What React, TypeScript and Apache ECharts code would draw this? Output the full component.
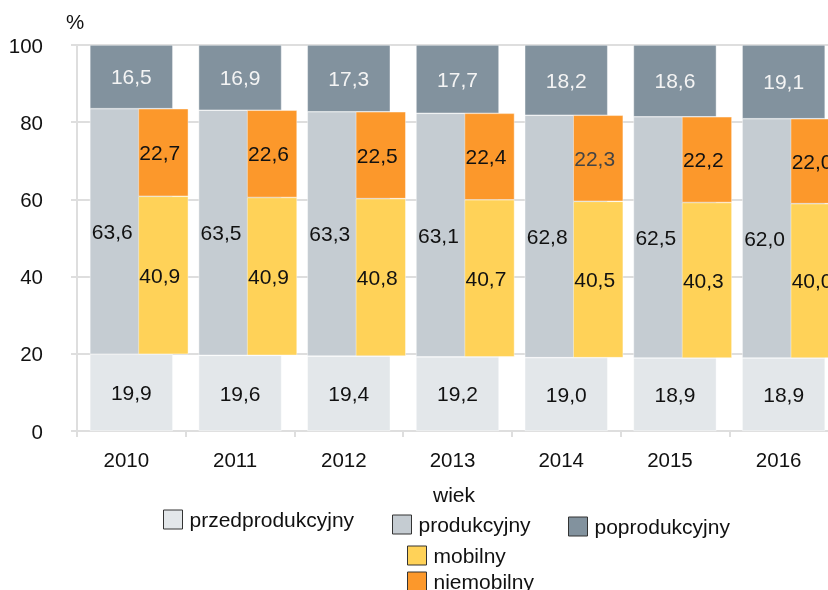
import React, { useEffect, useRef } from "react";
import * as echarts from "echarts";

const years = ["2010", "2011", "2012", "2013", "2014", "2015", "2016"];
const przedprodukcyjny = [19.9, 19.6, 19.4, 19.2, 19.0, 18.9, 18.9];
const produkcyjny = [63.6, 63.5, 63.3, 63.1, 62.8, 62.5, 62.0];
const poprodukcyjny = [16.5, 16.9, 17.3, 17.7, 18.2, 18.6, 19.1];
const mobilny = [40.9, 40.9, 40.8, 40.7, 40.5, 40.3, 40.0];
const niemobilny = [22.7, 22.6, 22.5, 22.4, 22.3, 22.2, 22.0];
const yTicks = [0, 20, 40, 60, 80, 100];

const FONT = "'Liberation Sans', Arial, Helvetica, sans-serif";
const C_PRZED = "#e3e7ea";
const C_PROD = "#c5ccd2";
const C_POPR = "#82929e";
const C_MOB = "#ffd258";
const C_NIEMOB = "#fc982b";
const GRID = "#dedede";

const fmt = (v: any) => {
  const n = typeof v === "object" && v !== null ? v.value : v;
  return Number(n).toFixed(1).replace(".", ",");
};

export default function App() {
  const ref = useRef<HTMLDivElement>(null);
  useEffect(() => {
    if (!ref.current) return;
    const chart = echarts.init(ref.current, undefined, { renderer: "svg" });
    const labelBase = {
      show: true,
      fontSize: 21,
      fontFamily: FONT,
      color: "#111",
      formatter: (p: any) => fmt(p.value),
    };
    const barBorder = { borderColor: "rgba(255,255,255,0.7)", borderWidth: 0.6 };
    const legendCommon = {
      orient: "horizontal" as const,
      padding: 0,
      itemWidth: 19,
      itemHeight: 19,
      selectedMode: false,
      icon: "rect",
      itemStyle: { borderColor: "#333", borderWidth: 1 },
      textStyle: { fontSize: 21, fontFamily: FONT, color: "#111", padding: [0, 0, 0, 2] },
    };
    chart.setOption({
      animation: false,
      grid: {
        left: 77,
        top: 45,
        width: 761,
        height: 386,
        outerBoundsMode: "none",
        containLabel: false,
      },
      xAxis: [
        {
          type: "category",
          data: years,
          boundaryGap: true,
          axisLine: { show: true, lineStyle: { color: GRID, width: 2 } },
          axisTick: { show: true, length: 6, lineStyle: { color: GRID, width: 2 } },
          axisLabel: {
            fontSize: 20.5,
            fontFamily: FONT,
            color: "#111",
            margin: 18,
            padding: [0, 10, 0, 0],
          },
        },
        {
          type: "category",
          data: years,
          show: false,
          gridIndex: 0,
        },
      ],
      yAxis: {
        type: "value",
        min: yTicks[0],
        max: yTicks[yTicks.length - 1],
        interval: 20,
        axisLine: { show: true, lineStyle: { color: GRID, width: 2 } },
        axisTick: { show: true, length: 6, lineStyle: { color: GRID, width: 2 } },
        splitLine: { show: true, lineStyle: { color: GRID, width: 2 } },
        axisLabel: {
          fontSize: 20.5,
          fontFamily: FONT,
          color: "#111",
          margin: 34,
          padding: [0, 0, 4, 0],
        },
      },
      legend: [
        { ...legendCommon, data: ["przedprodukcyjny"], left: 163, top: 509 },
        { ...legendCommon, data: ["produkcyjny"], left: 392, top: 514 },
        { ...legendCommon, data: ["poprodukcyjny"], left: 568, top: 516 },
        { ...legendCommon, data: ["mobilny"], left: 407, top: 545 },
        { ...legendCommon, data: ["niemobilny"], left: 407, top: 571 },
      ],
      graphic: [
        {
          type: "text",
          left: 66,
          top: 11,
          style: { text: "%", fontSize: 20.5, fontFamily: FONT, fill: "#111" },
        },
        {
          type: "text",
          left: 433,
          top: 484,
          style: { text: "wiek", fontSize: 21, fontFamily: FONT, fill: "#111" },
        },
      ],
      series: [
        {
          name: "przedprodukcyjny",
          type: "bar",
          xAxisIndex: 0,
          stack: "main",
          barWidth: 83,
          data: przedprodukcyjny,
          itemStyle: { color: C_PRZED, ...barBorder },
          label: { ...labelBase, position: "inside" },
        },
        {
          name: "produkcyjny",
          type: "bar",
          xAxisIndex: 0,
          stack: "main",
          barWidth: 83,
          data: produkcyjny,
          itemStyle: { color: C_PROD, ...barBorder },
          label: { ...labelBase, position: "insideLeft", distance: 2 },
        },
        {
          name: "poprodukcyjny",
          type: "bar",
          xAxisIndex: 0,
          stack: "main",
          barWidth: 83,
          data: poprodukcyjny,
          itemStyle: { color: C_POPR, ...barBorder },
          label: { ...labelBase, position: "inside", color: "#f4f4f4" },
        },
        {
          name: "ph",
          type: "bar",
          xAxisIndex: 1,
          stack: "ph",
          barWidth: 50,
          barGap: "28%",
          data: years.map(() => 0),
          itemStyle: { color: "rgba(0,0,0,0)", borderWidth: 0 },
          silent: true,
        },
        {
          name: "base",
          type: "bar",
          xAxisIndex: 1,
          stack: "ov",
          barWidth: 50,
          barGap: "28%",
          data: przedprodukcyjny,
          itemStyle: { color: "rgba(0,0,0,0)", borderWidth: 0 },
          silent: true,
        },
        {
          name: "mobilny",
          type: "bar",
          xAxisIndex: 1,
          stack: "ov",
          barWidth: 50,
          barGap: "28%",
          data: mobilny,
          itemStyle: { color: C_MOB, ...barBorder },
          label: { ...labelBase, position: "insideLeft", distance: 1 },
        },
        {
          name: "niemobilny",
          type: "bar",
          xAxisIndex: 1,
          stack: "ov",
          barWidth: 50,
          barGap: "28%",
          data: niemobilny.map((v, i) =>
            years[i] === "2014" ? { value: v, label: { color: "#444" } } : v
          ),
          itemStyle: { color: C_NIEMOB, ...barBorder },
          label: { ...labelBase, position: "insideLeft", distance: 1 },
        },
      ],
    });
    return () => chart.dispose();
  }, []);
  return (
    <div
      ref={ref}
      style={{ position: "fixed", left: 0, top: 0, width: 828, height: 590 }}
    />
  );
}
